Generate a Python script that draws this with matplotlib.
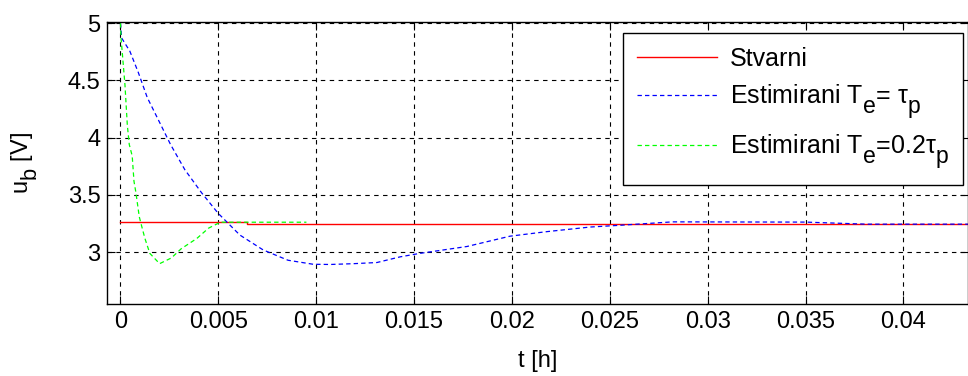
import numpy as np
import matplotlib
matplotlib.use('Agg')
import matplotlib.pyplot as plt
import matplotlib._mathtext as mathtext_internal

plt.rcParams['font.family'] = ['Liberation Sans', 'DejaVu Sans']
plt.rcParams['mathtext.fontset'] = 'custom'
plt.rcParams['mathtext.rm'] = 'Liberation Sans'
plt.rcParams['mathtext.it'] = 'Liberation Sans'
plt.rcParams['mathtext.bf'] = 'Liberation Sans:bold'

# subscripts in the original are nearly full size and dropped low
mathtext_internal.SHRINK_FACTOR = 0.92
mathtext_internal.FontConstantsBase.sub1 = 0.75

# actual value
t_real = [0, 0.00644, 0.00644, 0.0433]
u_real = [3.262, 3.262, 3.245, 3.245]

# estimate with Te = tau_p
t_est1 = [0, 0.00006, 0.00048, 0.00091, 0.00137, 0.00198, 0.00256, 0.00329, 0.00414,
          0.00499, 0.0061, 0.00729, 0.00856, 0.00984, 0.0107, 0.0119, 0.0131, 0.0143,
          0.0153, 0.0177, 0.0199, 0.0218, 0.024, 0.0255, 0.0282, 0.035, 0.0381, 0.0433]
u_est1 = [5.0, 4.87, 4.755, 4.57, 4.35, 4.14, 3.94, 3.72, 3.52,
          3.34, 3.15, 3.02, 2.93, 2.895, 2.893, 2.9, 2.91, 2.96,
          2.99, 3.05, 3.14, 3.18, 3.22, 3.235, 3.265, 3.263, 3.245, 3.245]

# estimate with Te = 0.2 tau_p
t_est2 = [0, 0.00003, 0.00023, 0.00035, 0.00045, 0.0006, 0.00069, 0.00079, 0.00096,
          0.00111, 0.00125, 0.0015, 0.002, 0.0026, 0.0031, 0.0039, 0.0045, 0.0051, 0.0095]
u_est2 = [5.0, 4.87, 4.46, 4.11, 3.94, 3.84, 3.62, 3.52, 3.31,
          3.21, 3.12, 2.99, 2.9, 2.95, 3.03, 3.12, 3.21, 3.262, 3.262]

x_ticks = [0, 0.005, 0.01, 0.015, 0.02, 0.025, 0.03, 0.035, 0.04]
x_ticklabels = ['0', '0.005', '0.01', '0.015', '0.02', '0.025', '0.03', '0.035', '0.04']
y_ticks = [3, 3.5, 4, 4.5, 5]
y_ticklabels = ['3', '3.5', '4', '4.5', '5']

fs = 17

fig = plt.figure(figsize=(9.68, 3.76), dpi=100)
ax = fig.add_axes([0.1109, 0.1915, 0.8891, 0.75])

ax.plot(t_real, u_real, color='#ff0000', linewidth=1.0, label='Stvarni')
ax.plot(t_est1, u_est1, color='#0000ff', linewidth=0.9, linestyle=(0, (3.5, 2.5)),
        label=r'Estimirani T$_\mathrm{e}$= $\tau_\mathrm{p}$')
ax.plot(t_est2, u_est2, color='#00ff00', linewidth=0.9, linestyle=(0, (3.5, 2.5)),
        label=r'Estimirani T$_\mathrm{e}$=0.2$\tau_\mathrm{p}$')

ax.set_xlim(-0.00067, 0.0433)
ax.set_ylim(2.548, 5.01)
ax.set_xticks(x_ticks)
ax.set_xticklabels(x_ticklabels)
ax.set_yticks(y_ticks)
ax.set_yticklabels(y_ticklabels)

ax.grid(True, color='black', linestyle=(0, (4, 4)), linewidth=0.8)
ax.tick_params(direction='in', length=6, width=0.8, top=True, right=True,
               labelsize=fs, colors='black')
ax.tick_params(axis='x', pad=5)
ax.tick_params(axis='y', pad=5)
for sp in ax.spines.values():
    sp.set_linewidth(1.0)

ax.set_xlabel('t [h]', fontsize=fs, labelpad=12)
ax.set_ylabel(r'u$_\mathrm{b}$ [V]', fontsize=fs, labelpad=20)

leg = ax.legend(loc='upper right', bbox_to_anchor=(0.9942, 0.961), borderaxespad=0,
                prop={'size': 18}, fancybox=False, framealpha=1, edgecolor='black',
                handlelength=3.2, handletextpad=0.52, borderpad=0.56, labelspacing=0.45)
leg.get_frame().set_linewidth(1.0)

fig.savefig('out.png', dpi=100)
